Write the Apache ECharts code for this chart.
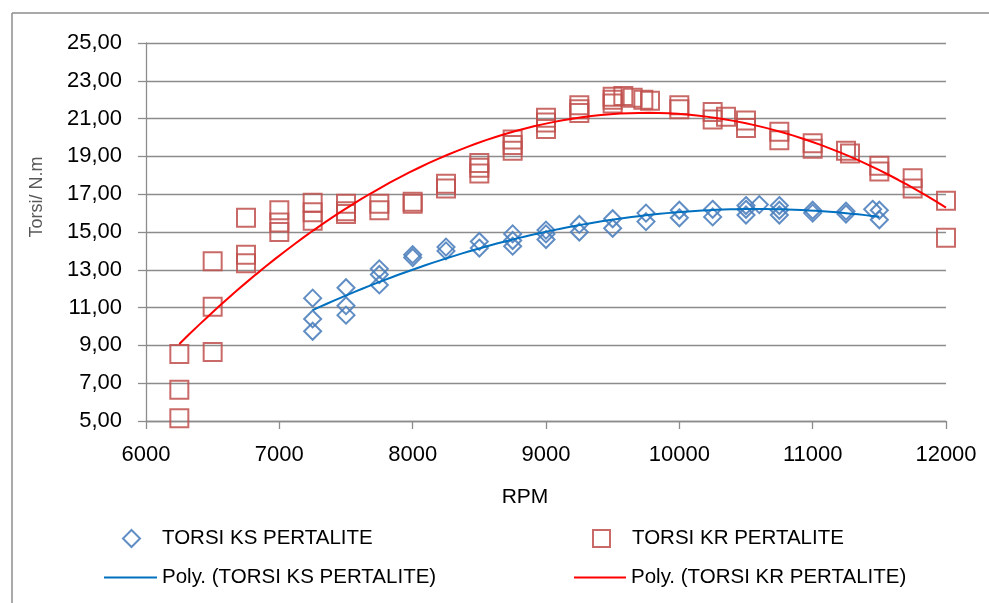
<!DOCTYPE html>
<html>
<head>
<meta charset="utf-8">
<script src="https://cdn.jsdelivr.net/npm/echarts@6/dist/echarts.min.js"></script>
<style>html,body{margin:0;padding:0;background:#fff;}#c{width:989px;height:603px;}</style>
</head>
<body>
<div id="c"></div>
<script>
// ---- data ----
const rpmKS = [7250,7250,7250, 7500,7500,7500, 7750,7750,7750, 8000,8000, 8250,8250, 8500,8500,
  8750,8750,8750, 9000,9000,9000, 9250,9250, 9500,9500, 9750,9750, 10000,10000, 10250,10250,
  10500,10500,10500, 10600, 10750,10750,10750, 11000,11000, 11250,11250, 11450, 11500,11500];
const torsiKS = [11.5,10.4,9.75, 12.05,11.1,10.6, 13.05,12.75,12.2, 13.8,13.65, 14.2,14.0, 14.5,14.15,
  14.9,14.55,14.25, 15.1,14.9,14.6, 15.4,15.0, 15.7,15.2, 16.0,15.55, 16.15,15.75, 16.2,15.8,
  16.4,16.2,15.9, 16.45, 16.4,16.15,15.9, 16.15,16.0, 16.1,15.95, 16.2, 16.15,15.65];

const rpmKR = [6250,6250,6250, 6500,6500,6500, 6750,6750,6750, 7000,7000,7000, 7250,7250,7250,
  7500,7500,7500, 7750,7750, 8000,8000, 8250,8250, 8500,8500,8500, 8750,8750,8750, 9000,9000,9000,
  9250,9250,9250, 9500,9500,9500, 9580, 9650, 9730, 9780, 10000,10000, 10250,10250, 10350,
  10500,10500, 10750,10750, 11000,11000, 11250,11280, 11500,11500, 11750,11750, 12000,12000];
const torsiKR = [8.55,6.65,5.15, 13.45,11.05,8.65, 15.75,13.8,13.35, 16.15,15.5,15.0, 16.55,16.05,15.6,
  16.5,16.1,15.95, 16.5,16.15, 16.6,16.5, 17.55,17.3, 18.65,18.4,18.1, 19.9,19.6,19.3, 21.05,20.8,20.45,
  21.7,21.5,21.3, 22.15,22.0,21.8, 22.2, 22.1, 22.0, 21.95, 21.7,21.5, 21.35,20.95, 21.1,
  20.9,20.5, 20.3,19.85, 19.7,19.4, 19.3,19.15, 18.5,18.2, 17.85,17.3, 16.65,14.7];

const xTicks = {min: 6000, max: 12000, step: 1000};
const yTicks = {min: 5, max: 25, step: 2};

const nameKS = 'TORSI KS PERTALITE';
const nameKR = 'TORSI KR PERTALITE';
const namePolyKS = 'Poly. (TORSI KS PERTALITE)';
const namePolyKR = 'Poly. (TORSI KR PERTALITE)';

// ---- order-2 polynomial (least squares) trendline, as in the spreadsheet ----
function polyFit2(xs, ys) {
  const n = xs.length;
  let s = [0,0,0,0,0], t = [0,0,0];
  for (let i = 0; i < n; i++) {
    const x = xs[i] / 1000, y = ys[i];
    let p = 1;
    for (let k = 0; k < 5; k++) { s[k] += p; if (k < 3) t[k] += p * y; p *= x; }
  }
  const A = [[s[0],s[1],s[2],t[0]],[s[1],s[2],s[3],t[1]],[s[2],s[3],s[4],t[2]]];
  for (let i = 0; i < 3; i++) {
    for (let j = i + 1; j < 3; j++) {
      const f = A[j][i] / A[i][i];
      for (let k = i; k < 4; k++) A[j][k] -= f * A[i][k];
    }
  }
  const c = [0,0,0];
  for (let i = 2; i >= 0; i--) {
    let v = A[i][3];
    for (let k = i + 1; k < 3; k++) v -= A[i][k] * c[k];
    c[i] = v / A[i][i];
  }
  return c;
}
function trend(xs, ys) {
  const c = polyFit2(xs, ys);
  const lo = Math.min(...xs), hi = Math.max(...xs);
  const out = [];
  const N = 80;
  for (let i = 0; i <= N; i++) {
    const x = lo + (hi - lo) * i / N, u = x / 1000;
    out.push([x, c[0] + c[1] * u + c[2] * u * u]);
  }
  return out;
}

const pairs = (xs, ys) => xs.map((x, i) => [x, ys[i]]);

const FONT = "'Liberation Sans', Arial, sans-serif";
const GRID = '#8c8c8c';
const BLUE = '#4f81bd', RED = '#c0504d', BLUE_T = '#0070c0', RED_T = '#ff0000';

const chart = echarts.init(document.getElementById('c'), null, {renderer: 'canvas'});
chart.setOption({
  animation: false,
  backgroundColor: '#ffffff',
  textStyle: {fontFamily: FONT},
  graphic: [
    {type: 'line', shape: {x1: 12, y1: 13, x2: 989, y2: 13}, style: {stroke: GRID, lineWidth: 1.5}, silent: true},
    {type: 'line', shape: {x1: 12, y1: 13, x2: 12, y2: 603}, style: {stroke: GRID, lineWidth: 1.5}, silent: true}
  ],
  grid: {left: 146, right: 43, top: 43, bottom: 182, containLabel: false},
  legend: [
    {data: [nameKS], left: 122, top: 528, padding: 0, itemWidth: 17, itemHeight: 17, icon: 'diamond',
     itemStyle: {color: 'transparent', borderColor: BLUE, borderWidth: 2},
     textStyle: {fontSize: 20.5, color: '#000', fontFamily: FONT, padding: [0,0,0,17]}},
    {data: [nameKR], left: 592, top: 528, padding: 0, itemWidth: 17, itemHeight: 17, icon: 'rect',
     itemStyle: {color: 'transparent', borderColor: RED, borderWidth: 2},
     textStyle: {fontSize: 20.5, color: '#000', fontFamily: FONT, padding: [0,0,0,17]}},
    {data: [namePolyKS], left: 104, top: 567, padding: 0, itemWidth: 53, itemHeight: 2, icon: 'rect',
     textStyle: {fontSize: 20.5, color: '#000', fontFamily: FONT}},
    {data: [namePolyKR], left: 574, top: 567, padding: 0, itemWidth: 52, itemHeight: 2, icon: 'rect',
     textStyle: {fontSize: 20.5, color: '#000', fontFamily: FONT}}
  ],
  xAxis: {
    type: 'value', min: xTicks.min, max: xTicks.max, interval: xTicks.step,
    name: 'RPM', nameLocation: 'middle', nameGap: 66,
    nameTextStyle: {fontSize: 21, color: '#000', fontFamily: FONT, padding: [0, 42, 0, 0]},
    axisLine: {show: true, lineStyle: {color: GRID, width: 1.3}},
    axisTick: {show: true, length: 8, lineStyle: {color: GRID, width: 1.3}},
    axisLabel: {fontSize: 22, color: '#000', margin: 23, fontFamily: FONT,
      formatter: v => String(v)},
    splitLine: {show: false}
  },
  yAxis: {
    type: 'value', min: yTicks.min, max: yTicks.max, interval: yTicks.step,
    name: 'Torsi/ N.m', nameLocation: 'middle', nameGap: 100, nameRotate: 90,
    nameTextStyle: {fontSize: 18, color: '#595959', fontFamily: FONT, padding: [0, 0, 0, 70]},
    axisLine: {show: true, lineStyle: {color: GRID, width: 1.3}},
    axisTick: {show: true, length: 8, lineStyle: {color: GRID, width: 1.3}},
    axisLabel: {fontSize: 22, color: '#000', margin: 24, fontFamily: FONT,
      formatter: v => v.toFixed(2).replace('.', ',')},
    splitLine: {show: true, lineStyle: {color: GRID, width: 1.3}}
  },
  series: [
    {name: nameKS, type: 'scatter', symbol: 'diamond', symbolSize: 17, z: 2,
     itemStyle: {color: 'transparent', borderColor: BLUE, borderWidth: 2, opacity: 0.9},
     data: pairs(rpmKS, torsiKS)},
    {name: nameKR, type: 'scatter', symbol: 'rect', symbolSize: 18, z: 3,
     itemStyle: {color: 'transparent', borderColor: RED, borderWidth: 2, opacity: 0.85},
     data: pairs(rpmKR, torsiKR)},
    {name: namePolyKS, type: 'line', showSymbol: false, symbol: 'none', z: 4,
     lineStyle: {color: BLUE_T, width: 2}, itemStyle: {color: BLUE_T},
     data: trend(rpmKS, torsiKS)},
    {name: namePolyKR, type: 'line', showSymbol: false, symbol: 'none', z: 5,
     lineStyle: {color: RED_T, width: 2}, itemStyle: {color: RED_T},
     data: trend(rpmKR, torsiKR)}
  ]
});
</script>
</body>
</html>
